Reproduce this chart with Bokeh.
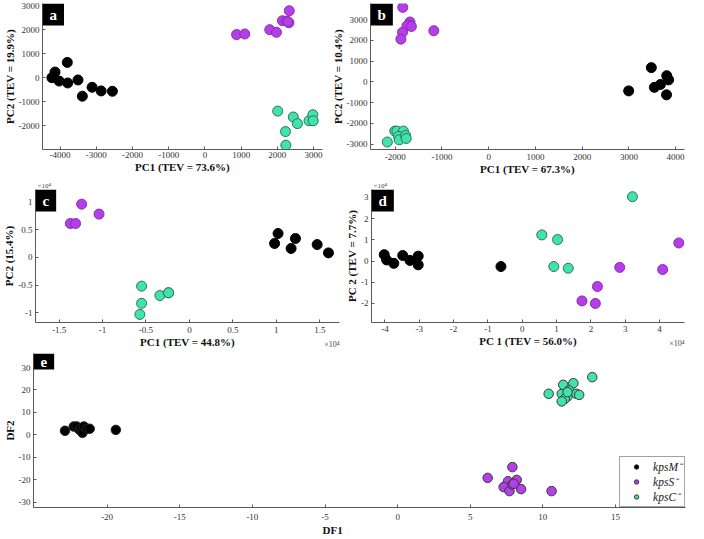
from bokeh.plotting import figure
from bokeh.models import Label, FixedTicker, CustomJSTickFormatter, Legend, LegendItem, Range1d, Title
from bokeh.layouts import column, row
from bokeh.embed import file_html
from bokeh.resources import INLINE

BLACK = "#000000"
PURPLE = "#b43ee8"
CYAN = "#42e2ad"
EDGE_S = "#8a2cb4"
EDGE_C = "#2a7656"

# ---------------- data ----------------
# panel a
a_M_x = [-4225, -4140, -4025, -3800, -3790, -3505, -3385, -3115, -2865, -2555]
a_M_y = [0, 235, -140, 635, -220, -95, -770, -400, -550, -565]
a_S_x = [875, 1100, 1790, 1975, 2140, 2260, 2320, 2330, 2290]
a_S_y = [1790, 1815, 1995, 1885, 2365, 2350, 2285, 2780, 2330]
a_C_x = [2010, 2440, 2555, 2225, 2875, 2980, 2990, 2235]
a_C_y = [-1390, -1635, -1910, -2240, -1790, -1540, -1790, -2805]
# panel b
b_M_x = [2995, 3480, 3545, 3675, 3810, 3850, 3805]
b_M_y = [-435, 685, -265, -125, 295, 95, -625]
b_S_x = [-1840, -1685, -1705, -1750, -1655, -1845, -1880, -1175]
b_S_y = [3585, 2880, 2740, 2695, 2665, 2385, 2055, 2460]
b_C_x = [-2170, -2010, -1965, -1825, -1930, -1915, -1780, -1765]
b_C_y = [-2895, -2370, -2370, -2370, -2630, -2790, -2585, -2725]
# panel c (x 10^4)
c_M_x = [0.98, 1.02, 1.17, 1.22, 1.47, 1.60]
c_M_y = [0.25, 0.43, 0.16, 0.34, 0.23, 0.08]
c_S_x = [-1.37, -1.31, -1.24, -1.04]
c_S_y = [0.61, 0.61, 0.96, 0.78]
c_C_x = [-0.55, -0.55, -0.57, -0.34, -0.24, -0.24]
c_C_y = [-0.52, -0.83, -1.03, -0.69, -0.64, -0.64]
# panel d (x 10^4)
d_M_x = [-4.02, -3.95, -3.74, -3.48, -3.27, -3.03, -3.03, -0.62]
d_M_y = [0.30, 0.05, -0.11, 0.26, 0.03, 0.23, -0.18, -0.26]
d_S_x = [1.74, 2.13, 2.19, 2.84, 4.09, 4.56]
d_S_y = [-1.88, -2.00, -1.20, -0.30, -0.40, 0.85]
d_C_x = [0.57, 1.03, 0.92, 1.34, 3.21]
d_C_y = [1.23, 1.01, -0.26, -0.34, 3.03]
# panel e
e_M_x = [-22.9, -22.3, -22.1, -21.9, -21.8, -21.7, -21.6, -21.4, -21.2, -19.4]
e_M_y = [1.8, 3.7, 3.7, 2.2, 3.1, 0.9, 3.7, 2.7, 2.7, 2.2]
e_S_x = [6.2, 7.9, 7.6, 8.2, 7.3, 7.7, 8.5, 7.9, 8.0, 10.6]
e_S_y = [-19.2, -14.4, -20.7, -20.1, -23.3, -25.1, -24.2, -22.1, -21.8, -25.1]
e_C_x = [10.4, 11.3, 11.4, 12.1, 13.4, 11.8, 11.7, 11.5, 11.3, 12.3, 12.5, 11.7]
e_C_y = [18.3, 18.3, 22.3, 23.0, 25.7, 19.8, 17.1, 16.0, 14.9, 18.3, 17.8, 19.0]

labels_legend = ["kpsM\u207b", "kpsS\u207b", "kpsC\u207b"]

SERIF = "Liberation Serif"
AXC = "#5a5a5a"


def mkfig(w, h, xr, yr, mb, xticks, yticks, xlabel, ylabel, lab_stand=(2, 3), title_stand=(0, 0)):
    p = figure(width=w, height=h, x_range=Range1d(*xr), y_range=Range1d(*yr),
               output_backend="svg", toolbar_location=None,
               min_border_left=mb[0], min_border_right=mb[1],
               min_border_top=mb[2], min_border_bottom=mb[3])
    p.grid.visible = False
    p.outline_line_color = None
    p.background_fill_color = "white"
    p.border_fill_color = "white"
    p.xaxis.ticker = FixedTicker(ticks=xticks)
    p.yaxis.ticker = FixedTicker(ticks=yticks)
    fmt = "return String(+tick.toFixed(2));"
    p.xaxis.formatter = CustomJSTickFormatter(code=fmt)
    p.yaxis.formatter = CustomJSTickFormatter(code=fmt)
    if xlabel:
        p.xaxis.axis_label = xlabel
    p.yaxis.axis_label = ylabel
    for ax, ls, ts in ((p.xaxis[0], lab_stand[0], title_stand[0]), (p.yaxis[0], lab_stand[1], title_stand[1])):
        ax.major_tick_in = 3
        ax.major_tick_out = 0
        ax.minor_tick_line_color = None
        ax.axis_line_color = AXC
        ax.major_tick_line_color = AXC
        ax.major_label_text_font = SERIF
        ax.major_label_text_font_size = "9px"
        ax.major_label_text_color = "#333333"
        ax.major_label_standoff = ls
        ax.axis_label_text_font = SERIF
        ax.axis_label_text_font_style = "bold"
        ax.axis_label_text_font_size = "11px"
        ax.axis_label_text_color = "#111111"
        ax.axis_label_standoff = ts
    return p


def points(p, xs, ys, color, edge, size=10):
    return p.scatter(xs, ys, size=size, fill_color=color, line_color=edge, line_width=1)


def panel_tag(p, letter):
    p.add_layout(Label(x=p.x_range.start, y=p.y_range.end, text=letter,
                       text_align="left", text_baseline="top",
                       text_color="white", text_font=SERIF, text_font_style="bold",
                       text_font_size="15px", background_fill_color="black",
                       padding=(7, 3)))


def exp_labels(p):
    top = Title(text="\u00d710\u2074", align="left", vertical_align="bottom",
                text_font=SERIF, text_font_size="7px", text_font_style="normal",
                text_color="#444444", standoff=0, offset=2)
    p.add_layout(top, "above")
    bot = Title(text="\u00d710\u2074", align="right", vertical_align="top",
                text_font=SERIF, text_font_size="8px", text_font_style="normal",
                text_color="#444444", standoff=-21, offset=0)
    p.add_layout(bot, "below")


# ---------------- panel a ----------------
pa = mkfig(328, 177, (-4485, 3247), (-2985, 3083), (32, 6, 3, 27),
           list(range(-4000, 3001, 1000)), list(range(-3000, 3001, 1000)),
           "PC1 (TEV = 73.6%)", "PC2 (TEV = 19.9%)", lab_stand=(2, 3))
points(pa, a_M_x, a_M_y, BLACK, BLACK)
points(pa, a_S_x, a_S_y, PURPLE, EDGE_S)
points(pa, a_C_x, a_C_y, CYAN, EDGE_C)
panel_tag(pa, "a")

# ---------------- panel b ----------------
pb = mkfig(360, 177, (-2530, 4190), (-3255, 3770), (36, 4, 3, 24),
           list(range(-2000, 4001, 1000)), list(range(-3000, 3001, 1000)),
           "PC1 (TEV = 67.3%)", "PC2 (TEV = 10.4%)", lab_stand=(4, 3))
points(pb, b_M_x, b_M_y, BLACK, BLACK)
points(pb, b_S_x, b_S_y, PURPLE, EDGE_S)
points(pb, b_C_x, b_C_y, CYAN, EDGE_C)
panel_tag(pb, "b")

# ---------------- panel c ----------------
pc = mkfig(343, 173, (-1.771, 1.727), (-1.176, 1.224), (30, 4, 12, 25),
           [-1.5, -1, -0.5, 0, 0.5, 1, 1.5], [-1, -0.5, 0, 0.5, 1],
           "PC1 (TEV = 44.8%)", "PC2 (15.4%)", lab_stand=(4, 3))
points(pc, c_M_x, c_M_y, BLACK, BLACK)
points(pc, c_S_x, c_S_y, PURPLE, EDGE_S)
points(pc, c_C_x, c_C_y, CYAN, EDGE_C)
panel_tag(pc, "c")
exp_labels(pc)

# ---------------- panel d ----------------
pd = mkfig(345, 173, (-4.39, 4.726), (-2.896, 3.369), (24, 4, 12, 24),
           [-4, -3, -2, -1, 0, 1, 2, 3, 4], [-2, -1, 0, 1, 2, 3],
           "PC 1 (TEV = 56.0%)", "PC 2 (TEV = 7.7%)", lab_stand=(3, 3))
points(pd, d_M_x, d_M_y, BLACK, BLACK)
points(pd, d_S_x, d_S_y, PURPLE, EDGE_S)
points(pd, d_C_x, d_C_y, CYAN, EDGE_C)
panel_tag(pd, "d")
exp_labels(pd)

# ---------------- panel e ----------------
pe = mkfig(688, 189, (-25.07, 19.82), (-32.4, 36.25), (27, 3, 3, 32),
           [-20, -15, -10, -5, 0, 5, 10, 15], [-30, -20, -10, 0, 10, 20, 30],
           None, "DF2", lab_stand=(6, 3), title_stand=(2, 0))
rM = points(pe, e_M_x, e_M_y, BLACK, "#222222", size=9.5)
rS = points(pe, e_S_x, e_S_y, PURPLE, "#3a3a3a", size=9.5)
rC = points(pe, e_C_x, e_C_y, CYAN, "#3a3a3a", size=9.5)
panel_tag(pe, "e")
pe.add_layout(Title(text="DF1", align="left", vertical_align="top", offset=289,
                    text_font=SERIF, text_font_size="11px", text_font_style="bold",
                    text_color="#111111", standoff=2), "below")

legend = Legend(items=[LegendItem(label=labels_legend[0], renderers=[rM]),
                       LegendItem(label=labels_legend[1], renderers=[rS]),
                       LegendItem(label=labels_legend[2], renderers=[rC])],
                location="bottom_right", margin=0, padding=2, spacing=0,
                glyph_width=28, glyph_height=11, label_height=11, label_standoff=3,
                label_width=0, label_text_line_height=0.9,
                label_text_font=SERIF, label_text_font_style="italic",
                label_text_font_size="11.5px", label_text_color="#222222",
                border_line_color="#444444", border_line_width=1,
                background_fill_color="white", background_fill_alpha=1)
pe.add_layout(legend)

layout = column(row(pa, pb), row(pc, pd), pe)

open("out.html", "w").write(file_html(layout, INLINE))
